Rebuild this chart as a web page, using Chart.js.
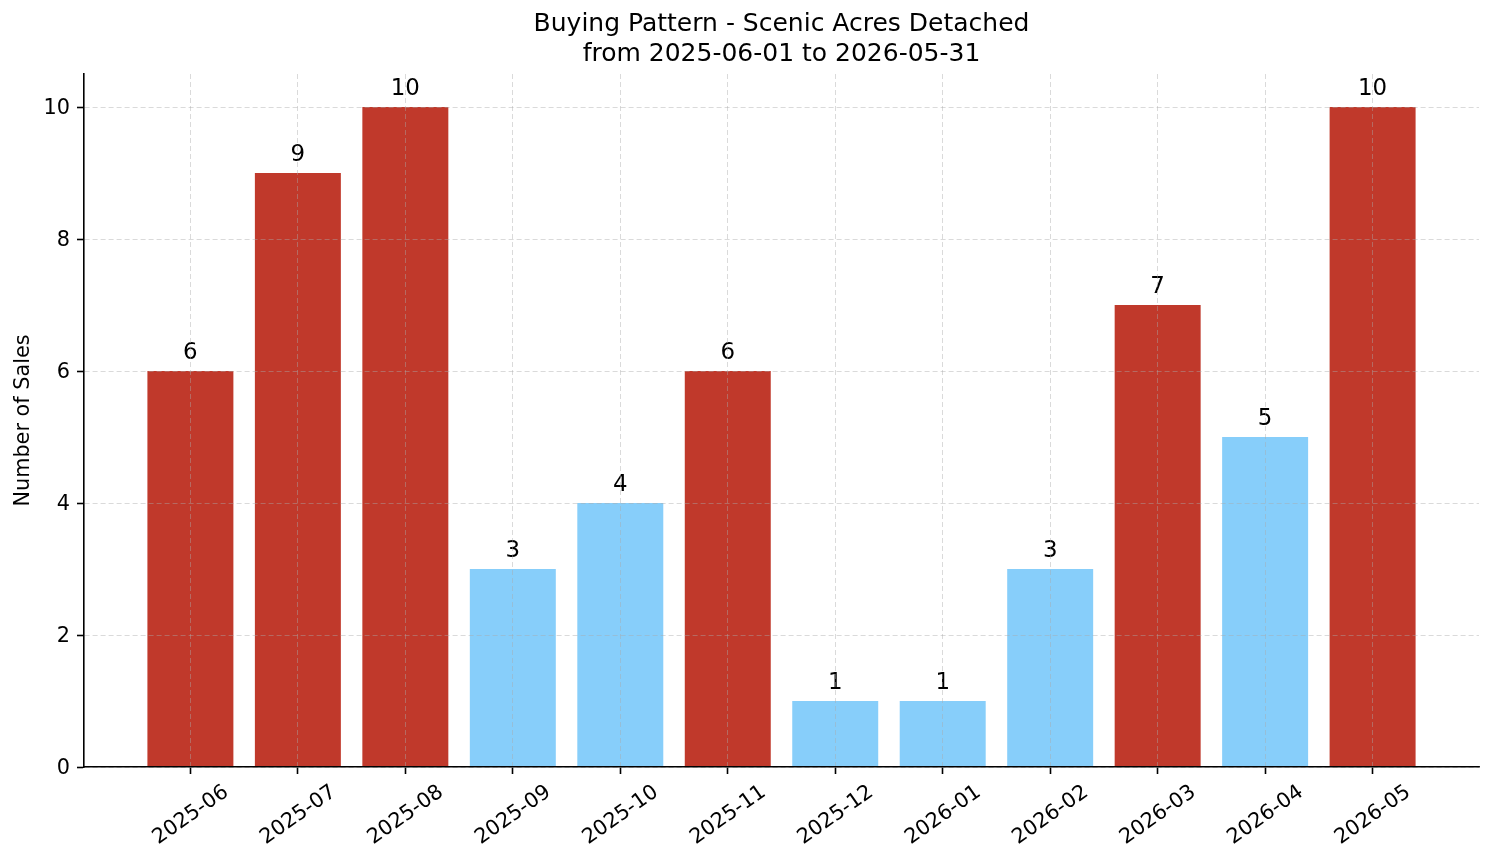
<!DOCTYPE html>
<html>
<head>
<meta charset="utf-8">
<script src="https://cdn.jsdelivr.net/npm/chart.js@4.4.1/dist/chart.umd.min.js"></script>
<style>
  html, body { margin: 0; padding: 0; background: #fff; }
  #wrap { width: 1494px; height: 863px; }
</style>
</head>
<body>
<div id="wrap"><canvas id="chart" width="1494" height="863"></canvas></div>
<script>
// --- data ---
const months = ['2025-06', '2025-07', '2025-08', '2025-09', '2025-10', '2025-11',
                '2025-12', '2026-01', '2026-02', '2026-03', '2026-04', '2026-05'];
const sales = [6, 9, 10, 3, 4, 6, 1, 1, 3, 7, 5, 10];
const yTicks = [0, 2, 4, 6, 8, 10];
const titleLines = ['Buying Pattern - Scenic Acres Detached', 'from 2025-06-01 to 2026-05-31'];

const HOT = '#c0392b';
const COOL = '#87cefa';
const FONT = '"DejaVu Sans", "Liberation Sans", sans-serif';

// months above the yearly average are drawn red
const avg = sales.reduce((a, b) => a + b, 0) / sales.length;
const barColors = sales.map(v => v > avg ? HOT : COOL);

// value text above each bar
const barValueLabels = {
  id: 'barValueLabels',
  afterDatasetsDraw(chart) {
    const ctx = chart.ctx;
    const meta = chart.getDatasetMeta(0);
    ctx.save();
    ctx.font = '22.9px ' + FONT;
    ctx.fillStyle = '#000';
    ctx.textAlign = 'center';
    ctx.textBaseline = 'alphabetic';
    meta.data.forEach((bar, i) => {
      ctx.fillText(String(sales[i]), bar.x, bar.y - 12.5);
    });
    ctx.restore();
  }
};

const gridStyle = {
  color: 'rgba(170,170,170,0.55)',
  lineWidth: 0.8,
  offset: false,
  z: 1,
  tickColor: '#000',
  tickWidth: 1.6,
  tickLength: 7
};

new Chart(document.getElementById('chart').getContext('2d'), {
  type: 'bar',
  data: {
    datasets: [{
      data: sales.map((v, i) => ({ x: i, y: v })),
      backgroundColor: barColors,
      borderWidth: 0,
      barPercentage: 0.8,
      categoryPercentage: 1.0
    }]
  },
  options: {
    responsive: false,
    animation: false,
    layout: { padding: { top: 0, left: 0, right: 15, bottom: 0 } },
    plugins: {
      legend: { display: false },
      tooltip: { enabled: false },
      title: {
        display: true,
        text: titleLines,
        fullSize: false,
        color: '#000',
        font: { family: FONT, size: 25, weight: 'normal', lineHeight: 1.2 },
        padding: { top: 9, bottom: 5 }
      }
    },
    scales: {
      x: {
        type: 'linear',
        min: -0.99,
        max: 11.99,
        offset: false,
        afterBuildTicks: s => { s.ticks = months.map((m, i) => ({ value: i })); },
        afterFit: s => { s.height = 96; },
        grid: gridStyle,
        border: { display: true, color: '#000', width: 1.6, dash: [5, 3], z: 2 },
        ticks: {
          autoSkip: false,
          minRotation: 35,
          maxRotation: 35,
          padding: 6,
          labelOffset: 36,
          color: '#000',
          font: { family: FONT, size: 20.8 },
          callback: (v) => months[v]
        }
      },
      y: {
        min: 0,
        max: 10.5,
        afterBuildTicks: s => { s.ticks = yTicks.map(v => ({ value: v })); },
        afterFit: s => { s.width = 84; },
        grid: gridStyle,
        border: { display: true, color: '#000', width: 1.6, dash: [5, 3], z: 2 },
        ticks: {
          padding: 7,
          labelOffset: 2,
          color: '#000',
          font: { family: FONT, size: 20.8 }
        },
        title: {
          display: true,
          text: 'Number of Sales',
          color: '#000',
          font: { family: FONT, size: 20.8, weight: 'normal' },
          padding: { top: 11, bottom: 0 }
        }
      }
    }
  },
  plugins: [barValueLabels]
});
</script>
</body>
</html>
